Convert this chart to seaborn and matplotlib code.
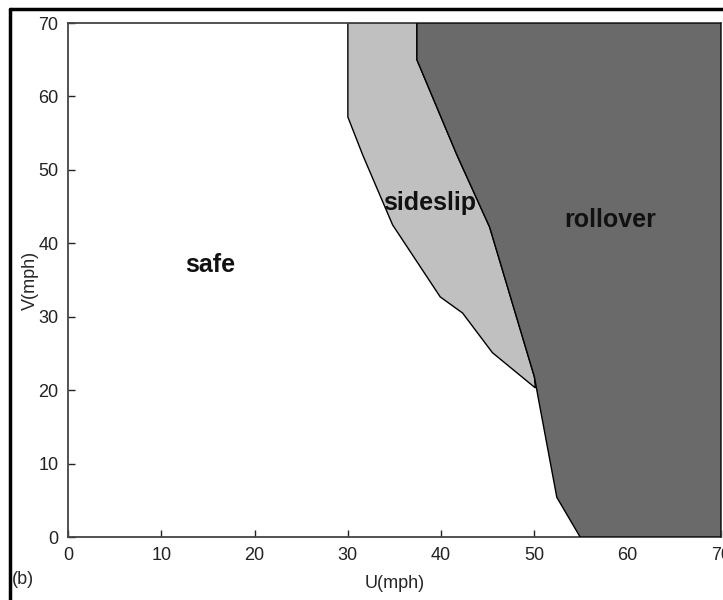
import numpy as np
import matplotlib
matplotlib.use("Agg")
import matplotlib.pyplot as plt
from matplotlib.lines import Line2D
import seaborn as sns

# boundary of the sideslip region (left edge, top to bottom)
sideslip_u = [30.0, 30.0, 31.6, 34.8, 39.9, 42.3, 45.5, 50.1]
sideslip_v = [70.0, 57.2, 52.0, 42.5, 32.7, 30.5, 25.1, 20.3]

# boundary of the rollover region (left edge, top to bottom)
rollover_u = [37.4, 37.4, 41.7, 45.2, 50.0, 50.4, 52.4, 54.9]
rollover_v = [70.0, 65.0, 52.0, 42.2, 21.8, 19.0, 5.4, 0.0]

u_max, v_max = 70, 70
ticks = [0, 10, 20, 30, 40, 50, 60, 70]

region_labels = ["safe", "sideslip", "rollover"]
label_u = [15.2, 38.8, 58.1]
label_v = [37.0, 45.5, 43.2]

sns.set_style("white")
plt.rcParams["font.family"] = ["Liberation Sans", "DejaVu Sans"]

fig = plt.figure(figsize=(7.23, 6.0), dpi=100)
ax = fig.add_axes([68 / 723, 1 - 537 / 600, 653 / 723, 514 / 600])

# sideslip: left edge, then back up along the rollover edge
ru = np.array(rollover_u)
rv = np.array(rollover_v)
above = rv > sideslip_v[-1]
ss_u = np.concatenate([sideslip_u, ru[above][::-1]])
ss_v = np.concatenate([sideslip_v, rv[above][::-1]])
ax.fill(ss_u, ss_v, facecolor="#c0c0c0", edgecolor="black", lw=1.0, zorder=2)

ro_u = np.concatenate([rollover_u, [u_max, u_max]])
ro_v = np.concatenate([rollover_v, [0, v_max]])
ax.fill(ro_u, ro_v, facecolor="#6a6a6a", edgecolor="black", lw=1.0, zorder=3)

for name, x, y in zip(region_labels, label_u, label_v):
    ax.text(x, y, name, fontsize=18, fontweight="bold", ha="center",
            va="center", color="#111111", zorder=5)

ax.set_xlim(0, u_max)
ax.set_ylim(0, v_max)
ax.set_xticks(ticks)
ax.set_yticks(ticks)
ax.tick_params(direction="in", length=5, width=1, labelsize=13,
               colors="#222222", pad=7, bottom=True, left=True)
ax.set_xlabel("U(mph)", fontsize=13, labelpad=8)
ax.set_ylabel("V(mph)", fontsize=13, labelpad=-1)
for s in ax.spines.values():
    s.set_color("#444444")
    s.set_linewidth(1.3)

fig.text(12 / 723, 1 - 580 / 600, "(b)", fontsize=13, va="center")

# outer frame (only top and left show in the cropped figure)
fig.add_artist(Line2D([10 / 723, 1], [1 - 9 / 600, 1 - 9 / 600],
                      transform=fig.transFigure, color="black", lw=2.5))
fig.add_artist(Line2D([10 / 723, 10 / 723], [0, 1 - 9 / 600],
                      transform=fig.transFigure, color="black", lw=2.5))

fig.savefig("out.png", dpi=100)
